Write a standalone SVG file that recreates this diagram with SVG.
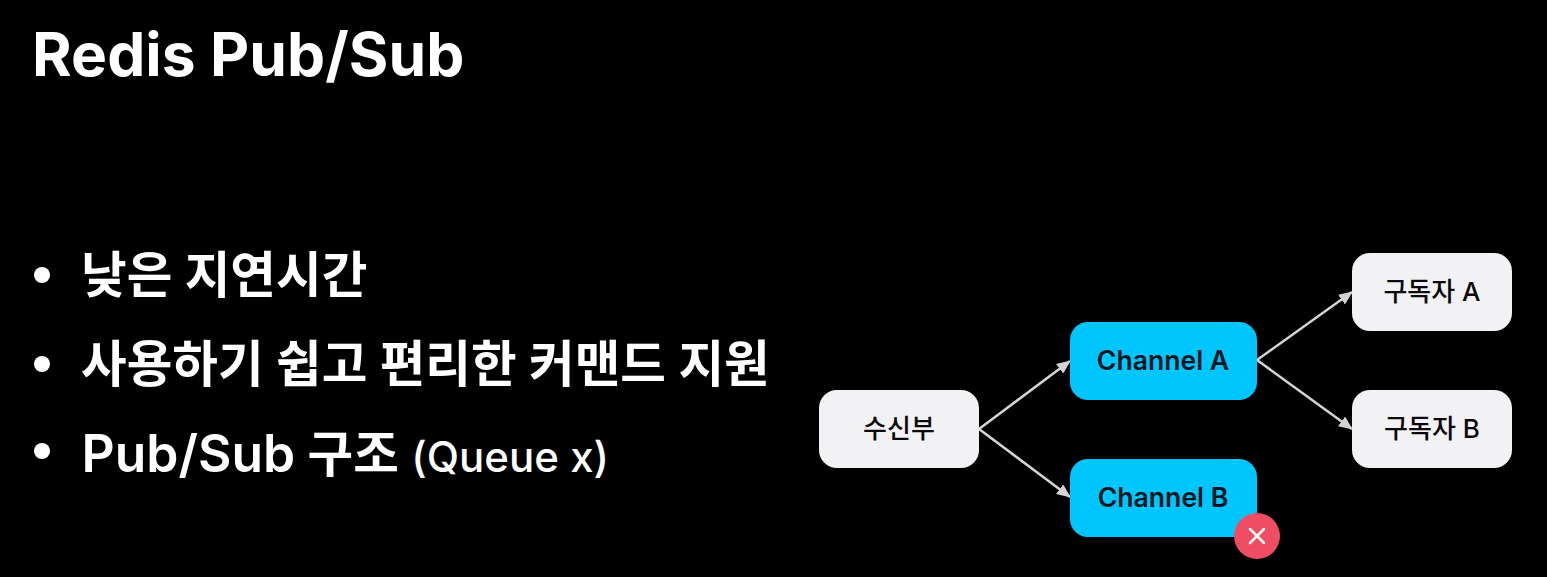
<svg xmlns="http://www.w3.org/2000/svg" width="1547" height="577" viewBox="0 0 1547 577">
<style>
text{font-family:"Inter","Noto Sans CJK KR",sans-serif}
.t{fill:#fff;font-weight:700;font-size:60.5px;letter-spacing:.05px}
.b{fill:#fff;font-weight:600;font-size:49.6px}
.n{fill:#f2f2f4}
.c{fill:#00c6ff}
.l{fill:#0a0a0a;font-size:26px;font-weight:500;text-anchor:middle}
.m{fill:#03151f;font-size:26.6px;font-weight:600;text-anchor:middle}
.e{stroke:#d4d4d4;stroke-width:2.5;fill:none;marker-end:url(#a)}
</style>
<defs><marker id="a" markerUnits="userSpaceOnUse" markerWidth="14" markerHeight="12" refX="13" refY="6" orient="auto"><path d="M0 0L14 6L0 12Z" fill="#d4d4d4"/></marker></defs>
<rect width="1547" height="577" fill="#000"/>
<text class="t" x="32" y="76">Redis Pub/Sub</text>
<circle cx="42" cy="275" r="8" fill="#fff"/><text class="b" x="81" y="293">낮은 지연시간</text>
<circle cx="42" cy="364" r="8" fill="#fff"/><text class="b" x="81" y="382">사용하기 쉽고 편리한 커맨드 지원</text>
<circle cx="42" cy="451" r="8" fill="#fff"/><text class="b" x="81.500" y="472"><tspan font-size="51.5">Pub/Sub</tspan> 구조 <tspan font-size="42" font-weight="500">(Queue x)</tspan></text>
<g id="connectors">
<path class="e" d="M979 429L1070 361"/><path class="e" d="M979 429L1070 497"/><path class="e" d="M1257 360L1352 292"/><path class="e" d="M1257 360L1352 429"/>
</g>
<g id="receiver"><rect class="n" x="819" y="390" width="160" height="78" rx="18"/><text class="l" x="899" y="438">수신부</text></g>
<g id="channel-a"><rect class="c" x="1070" y="322" width="187" height="78" rx="18"/><text class="m" x="1163" y="370">Channel A</text></g>
<g id="channel-b"><rect class="c" x="1070" y="459" width="187" height="78" rx="18"/><text class="m" x="1163" y="507">Channel B</text></g>
<g id="sub-a"><rect class="n" x="1352" y="253" width="160" height="78" rx="18"/><text class="l" x="1432" y="301">구독자 A</text></g>
<g id="sub-b"><rect class="n" x="1352" y="390" width="160" height="78" rx="18"/><text class="l" x="1432" y="438">구독자 B</text></g>
<g id="error"><circle cx="1257" cy="536" r="23" fill="#ee4d63"/><path d="M1250 529L1264 543M1264 529L1250 543" stroke="#fff" stroke-width="2.5" stroke-linecap="round"/></g>
</svg>
